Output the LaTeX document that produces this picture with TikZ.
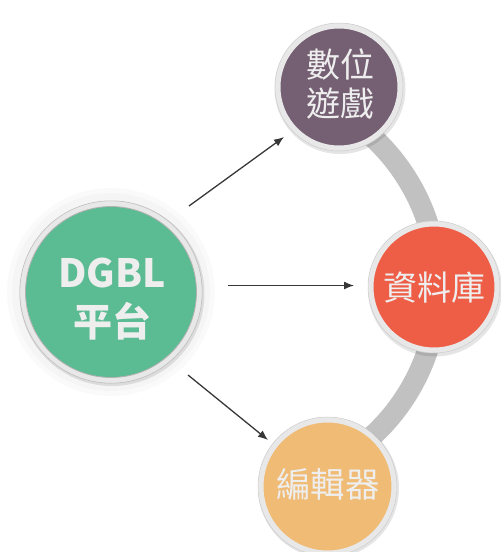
\documentclass[tikz,border=0pt]{standalone}
\usepackage{fontspec}
\setmainfont{Noto Sans CJK TC}
\usetikzlibrary{arrows.meta}
\definecolor{cgreen}{RGB}{91,187,146}
\definecolor{cpurple}{RGB}{117,96,115}
\definecolor{cred}{RGB}{238,93,70}
\definecolor{corange}{RGB}{240,187,116}
\definecolor{cring}{RGB}{232,232,232}
\definecolor{cband}{RGB}{193,193,193}
\definecolor{ctext}{RGB}{238,238,238}
\definecolor{carrow}{RGB}{55,55,55}
\tikzset{
  bubble/.style={circle, inner sep=0pt, draw=cring, line width=5.5pt, minimum size=#1},
  shade ring/.style={draw=black!30, line width=0.8pt},
  softshadow/.style={fill=black, opacity=0.10},
  label text/.style={text=ctext, align=center, inner sep=0pt},
  conn/.style={draw=carrow, line width=1.3pt, -{Latex[length=10pt,width=8pt]}},
  band/.style={draw=cband, line width=21pt}
}
\begin{document}
\begin{tikzpicture}[x=1pt,y=-1pt]
\useasboundingbox (0,0) rectangle (501,552);
% faint halo around the main circle
\fill[black, opacity=0.018] (111,292) circle (104pt);
\fill[black, opacity=0.018] (111,292) circle (99pt);
% gray band
\coordinate (arcc) at (234.5,286.5);
\draw[band] (arcc) ++(66:203.4pt) arc[start angle=66, end angle=-66, radius=203.4pt];
% shadows
\fill[softshadow] (112,293.5) circle (92.5pt);
\fill[softshadow] (340,88.5) circle (65.5pt);
\fill[softshadow] (435,289.5) circle (67pt);
\fill[softshadow] (328.5,488) circle (70.5pt);
% circles
\node[bubble=176.5pt, fill=cgreen] (dgbl) at (111,292) {};
\draw[shade ring] (dgbl.center) circle (85.5pt);
\draw[draw=black!25, line width=0.6pt] (dgbl.center) circle (91.2pt);
\node[bubble=122.5pt, fill=cpurple] (game) at (339,87) {};
\draw[draw=black!20, line width=0.5pt] (game.center) circle (64pt);
\node[bubble=126.5pt, fill=cred] (db) at (434,287) {};
\draw[draw=black!20, line width=0.5pt] (db.center) circle (66pt);
\node[bubble=133.5pt, fill=corange] (editor) at (327.5,486.5) {};
\draw[draw=black!20, line width=0.5pt] (editor.center) circle (69.5pt);
% texts
\node[label text, font=\fontsize{39}{49}\selectfont\bfseries] (dgbltxt) at (112,299) {DGBL\\平台};
\node[label text, font=\fontsize{34}{39}\selectfont] (gametxt) at (340,84) {數位\\遊戲};
\node[label text, font=\fontsize{34}{39}\selectfont] (dbtxt) at (434,288) {資料庫};
\node[label text, font=\fontsize{34.5}{39}\selectfont] (edtxt) at (328,484) {編輯器};
% connectors
\coordinate (a1s) at (189,206);
\coordinate (a1e) at (284,137);
\coordinate (a2s) at (228,285.5);
\coordinate (a2e) at (354,285.5);
\coordinate (a3s) at (188,375);
\coordinate (a3e) at (268,440);
\draw[conn] (a1s) -- (a1e);
\draw[conn] (a2s) -- (a2e);
\draw[conn] (a3s) -- (a3e);
\end{tikzpicture}
\end{document}
